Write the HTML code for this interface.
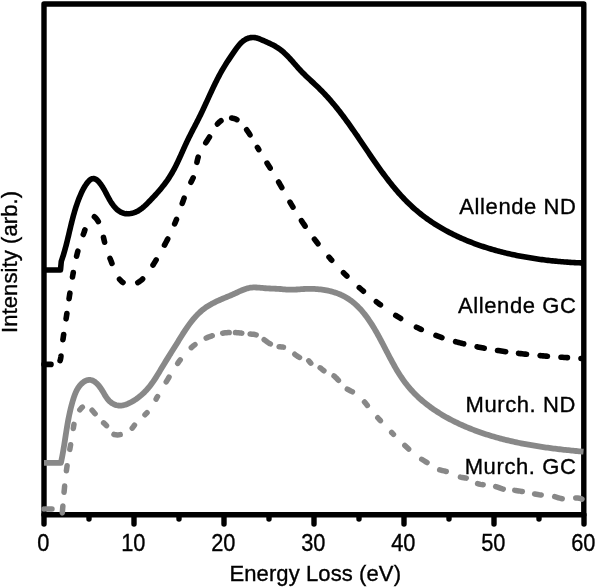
<!DOCTYPE html>
<html><head><meta charset="utf-8"><style>
html,body{margin:0;padding:0;background:#fff;}
body{width:600px;height:588px;overflow:hidden;font-family:"Liberation Sans",sans-serif;}
svg{display:block;will-change:transform;}
</style></head><body>
<svg width="600" height="588" viewBox="0 0 600 588">
<rect width="600" height="588" fill="#fff"/>
<g fill="none" stroke="#000" stroke-width="5.4" stroke-linecap="round" stroke-linejoin="round">
<path d="M44,514.8 V4 H583.8 V514.8 Z"/>
<line x1="44" y1="514.8" x2="44" y2="524" /><line x1="134" y1="514.8" x2="134" y2="524" /><line x1="224" y1="514.8" x2="224" y2="524" /><line x1="314" y1="514.8" x2="314" y2="524" /><line x1="404" y1="514.8" x2="404" y2="524" /><line x1="494" y1="514.8" x2="494" y2="524" /><line x1="584" y1="514.8" x2="584" y2="524" /><line x1="89" y1="514.8" x2="89" y2="519" /><line x1="179" y1="514.8" x2="179" y2="519" /><line x1="269" y1="514.8" x2="269" y2="519" /><line x1="359" y1="514.8" x2="359" y2="519" /><line x1="449" y1="514.8" x2="449" y2="519" /><line x1="539" y1="514.8" x2="539" y2="519" />
</g>
<g fill="none" stroke-linejoin="round" stroke-width="5.6">
<path d="M44.00,270.00 45.50,270.00 47.00,270.00 48.50,270.00 50.00,270.00 51.50,270.00 53.00,270.00 54.50,270.00 56.00,270.00 57.50,270.00 59.00,270.00 60.50,270.00 60.66,268.26 60.82,266.52 60.98,264.78 61.14,263.04 61.30,261.30 61.80,259.86 62.29,258.42 62.76,256.98 63.22,255.54 63.66,254.09 64.09,252.65 64.51,251.21 64.92,249.76 65.32,248.32 65.71,246.87 66.09,245.42 66.46,243.98 66.83,242.53 67.19,241.08 67.54,239.64 67.89,238.19 68.24,236.74 68.58,235.29 68.92,233.85 69.26,232.40 69.60,230.95 69.95,229.51 70.29,228.06 70.63,226.62 70.98,225.17 71.33,223.73 71.69,222.28 72.05,220.84 72.42,219.40 72.79,217.95 73.18,216.51 73.57,215.07 73.97,213.63 74.38,212.20 74.80,210.76 75.24,209.32 75.69,207.89 76.15,206.45 76.63,205.02 77.12,203.59 77.63,202.16 78.15,200.74 78.69,199.31 79.25,197.89 79.83,196.46 80.44,195.04 81.06,193.63 81.70,192.21 82.37,190.81 83.07,189.43 83.81,188.08 84.57,186.75 85.37,185.46 86.21,184.22 87.10,183.02 88.03,181.88 89.00,180.81 90.03,179.84 91.12,179.10 92.27,178.68 93.47,178.59 94.69,178.82 95.91,179.34 97.09,180.14 98.21,181.19 99.28,182.40 100.28,183.68 101.22,184.98 102.10,186.28 102.93,187.59 103.71,188.90 104.46,190.21 105.18,191.52 105.89,192.83 106.58,194.14 107.26,195.45 107.95,196.75 108.64,198.05 109.36,199.34 110.10,200.63 110.88,201.90 111.70,203.17 112.56,204.42 113.48,205.65 114.45,206.84 115.47,207.97 116.54,209.04 117.67,210.04 118.86,210.94 120.10,211.74 121.41,212.42 122.78,212.98 124.21,213.39 125.71,213.65 127.25,213.75 128.83,213.71 130.39,213.54 131.93,213.26 133.41,212.88 134.83,212.40 136.20,211.84 137.52,211.19 138.79,210.47 140.02,209.69 141.22,208.84 142.38,207.94 143.52,207.00 144.63,206.01 145.72,204.99 146.79,203.95 147.86,202.88 148.91,201.81 149.96,200.73 151.01,199.64 152.05,198.55 153.08,197.45 154.11,196.35 155.14,195.24 156.15,194.13 157.16,193.00 158.16,191.87 159.14,190.74 160.12,189.59 161.09,188.44 162.04,187.27 162.98,186.10 163.90,184.92 164.82,183.73 165.71,182.53 166.59,181.32 167.46,180.10 168.30,178.86 169.13,177.62 169.94,176.36 170.73,175.09 171.50,173.81 172.25,172.52 172.99,171.22 173.71,169.91 174.41,168.59 175.10,167.26 175.78,165.92 176.45,164.58 177.10,163.23 177.75,161.87 178.39,160.51 179.02,159.15 179.65,157.78 180.27,156.41 180.89,155.04 181.50,153.67 182.11,152.29 182.72,150.92 183.34,149.54 183.95,148.17 184.57,146.80 185.19,145.43 185.82,144.07 186.45,142.71 187.09,141.35 187.73,140.00 188.39,138.66 189.05,137.32 189.72,135.98 190.39,134.65 191.07,133.32 191.75,131.99 192.44,130.66 193.12,129.34 193.81,128.01 194.50,126.69 195.19,125.36 195.87,124.04 196.56,122.71 197.24,121.38 197.92,120.05 198.60,118.71 199.27,117.37 199.93,116.03 200.59,114.68 201.24,113.33 201.89,111.98 202.54,110.62 203.18,109.26 203.81,107.89 204.45,106.52 205.08,105.16 205.71,103.79 206.34,102.42 206.97,101.04 207.59,99.67 208.22,98.30 208.85,96.93 209.47,95.56 210.10,94.19 210.73,92.82 211.37,91.46 212.00,90.09 212.64,88.73 213.28,87.37 213.93,86.02 214.58,84.67 215.24,83.32 215.90,81.98 216.57,80.64 217.25,79.31 217.93,77.98 218.62,76.66 219.31,75.35 220.02,74.04 220.73,72.74 221.46,71.44 222.19,70.16 222.94,68.88 223.69,67.61 224.46,66.35 225.23,65.09 226.02,63.84 226.81,62.60 227.62,61.35 228.43,60.11 229.25,58.87 230.08,57.63 230.91,56.39 231.76,55.14 232.61,53.89 233.47,52.64 234.33,51.38 235.20,50.12 236.09,48.87 236.99,47.63 237.92,46.42 238.87,45.25 239.85,44.12 240.87,43.05 241.92,42.04 243.02,41.11 244.17,40.26 245.37,39.50 246.63,38.85 247.95,38.30 249.34,37.88 250.79,37.59 252.29,37.45 253.79,37.45 255.27,37.63 256.70,37.96 258.10,38.41 259.47,38.94 260.84,39.51 262.20,40.09 263.56,40.68 264.93,41.27 266.31,41.87 267.68,42.48 269.06,43.10 270.42,43.75 271.77,44.41 273.11,45.09 274.43,45.80 275.73,46.54 277.00,47.32 278.24,48.12 279.46,48.97 280.64,49.85 281.79,50.77 282.92,51.71 284.03,52.69 285.11,53.69 286.17,54.71 287.22,55.76 288.26,56.82 289.28,57.91 290.29,59.00 291.29,60.11 292.29,61.23 293.28,62.36 294.27,63.49 295.26,64.62 296.26,65.76 297.26,66.89 298.26,68.02 299.28,69.14 300.31,70.25 301.35,71.35 302.41,72.43 303.48,73.51 304.55,74.58 305.64,75.64 306.74,76.69 307.84,77.74 308.94,78.78 310.05,79.81 311.16,80.85 312.27,81.88 313.38,82.91 314.49,83.95 315.59,84.98 316.68,86.02 317.77,87.06 318.85,88.10 319.92,89.15 320.98,90.21 322.02,91.27 323.06,92.34 324.09,93.41 325.11,94.49 326.12,95.58 327.12,96.67 328.12,97.76 329.10,98.86 330.08,99.97 331.05,101.08 332.01,102.20 332.96,103.33 333.91,104.45 334.85,105.59 335.78,106.73 336.71,107.87 337.63,109.02 338.55,110.17 339.45,111.33 340.36,112.50 341.26,113.67 342.15,114.84 343.04,116.02 343.93,117.20 344.81,118.39 345.69,119.58 346.56,120.78 347.44,121.98 348.30,123.18 349.17,124.39 350.03,125.61 350.89,126.82 351.75,128.05 352.61,129.27 353.47,130.50 354.32,131.74 355.17,132.97 356.02,134.21 356.88,135.46 357.73,136.70 358.58,137.95 359.42,139.20 360.27,140.46 361.12,141.71 361.97,142.97 362.82,144.23 363.67,145.49 364.52,146.75 365.37,148.01 366.22,149.27 367.07,150.53 367.93,151.79 368.78,153.05 369.64,154.31 370.50,155.57 371.35,156.83 372.22,158.09 373.08,159.35 373.95,160.60 374.81,161.85 375.69,163.10 376.56,164.35 377.44,165.60 378.32,166.84 379.20,168.08 380.08,169.32 380.97,170.55 381.87,171.78 382.77,173.01 383.67,174.23 384.57,175.45 385.48,176.66 386.40,177.87 387.32,179.07 388.24,180.27 389.17,181.46 390.10,182.65 391.04,183.83 391.99,185.00 392.94,186.17 393.89,187.33 394.86,188.49 395.82,189.63 396.80,190.77 397.78,191.90 398.77,193.03 399.76,194.14 400.76,195.25 401.77,196.35 402.79,197.44 403.81,198.52 404.84,199.60 405.88,200.66 406.92,201.71 407.98,202.75 409.04,203.79 410.11,204.81 411.19,205.82 412.28,206.82 413.37,207.81 414.48,208.79 415.59,209.76 416.71,210.72 417.84,211.67 418.98,212.60 420.13,213.53 421.28,214.45 422.44,215.35 423.61,216.24 424.79,217.13 425.98,218.00 427.17,218.86 428.37,219.72 429.58,220.56 430.80,221.39 432.02,222.21 433.25,223.03 434.49,223.83 435.73,224.62 436.98,225.40 438.24,226.18 439.50,226.94 440.77,227.69 442.05,228.44 443.33,229.17 444.62,229.89 445.92,230.61 447.22,231.31 448.53,232.01 449.85,232.70 451.17,233.37 452.49,234.04 453.82,234.70 455.16,235.35 456.50,235.99 457.85,236.62 459.20,237.24 460.56,237.86 461.92,238.46 463.29,239.06 464.67,239.65 466.04,240.22 467.43,240.79 468.81,241.36 470.20,241.91 471.60,242.45 473.00,242.99 474.41,243.52 475.81,244.03 477.23,244.54 478.64,245.05 480.06,245.54 481.49,246.03 482.92,246.51 484.35,246.98 485.78,247.44 487.22,247.89 488.66,248.34 490.11,248.78 491.56,249.21 493.01,249.63 494.46,250.05 495.92,250.45 497.38,250.85 498.84,251.25 500.30,251.63 501.77,252.01 503.24,252.38 504.71,252.74 506.19,253.10 507.66,253.45 509.14,253.79 510.62,254.13 512.10,254.45 513.59,254.77 515.07,255.09 516.56,255.40 518.05,255.70 519.53,255.99 521.03,256.28 522.52,256.56 524.01,256.83 525.50,257.10 527.00,257.36 528.49,257.61 529.99,257.86 531.49,258.10 532.98,258.34 534.48,258.57 535.98,258.79 537.48,259.01 538.97,259.22 540.47,259.42 541.97,259.62 543.47,259.81 544.96,260.00 546.46,260.18 547.96,260.36 549.45,260.53 550.95,260.69 552.44,260.85 553.94,261.01 555.43,261.15 556.92,261.30 558.41,261.43 559.90,261.57 561.39,261.69 562.88,261.81 564.37,261.93 565.85,262.04 567.33,262.15 568.81,262.25 570.29,262.35 571.77,262.44 573.24,262.52 574.71,262.61 576.18,262.68 577.65,262.76 579.12,262.82 580.58,262.89 582.04,262.95 583.50,263.00" stroke="#000" stroke-linecap="butt"/>
<path d="M44.00,364.40 45.76,364.40 47.52,364.40 49.28,364.40 51.04,364.40 52.80,364.40 54.37,364.40 55.93,364.40 57.50,364.40 58.54,363.46 59.33,362.36 59.93,361.11 60.36,359.76 60.67,358.31 60.88,356.81 61.05,355.27 61.20,353.73 61.36,352.19 61.53,350.66 61.71,349.14 61.89,347.62 62.07,346.11 62.26,344.60 62.46,343.10 62.66,341.61 62.87,340.12 63.08,338.63 63.30,337.14 63.51,335.66 63.73,334.18 63.96,332.71 64.18,331.23 64.41,329.76 64.63,328.28 64.86,326.81 65.09,325.34 65.31,323.87 65.54,322.39 65.77,320.92 65.99,319.44 66.21,317.96 66.44,316.48 66.66,315.00 66.88,313.52 67.09,312.04 67.31,310.56 67.53,309.07 67.75,307.58 67.97,306.10 68.18,304.61 68.40,303.12 68.62,301.63 68.84,300.15 69.06,298.66 69.28,297.17 69.51,295.68 69.73,294.19 69.96,292.70 70.18,291.21 70.41,289.72 70.64,288.24 70.88,286.75 71.11,285.26 71.35,283.78 71.59,282.29 71.84,280.81 72.09,279.32 72.34,277.84 72.59,276.36 72.85,274.88 73.11,273.40 73.38,271.93 73.65,270.45 73.92,268.98 74.20,267.51 74.49,266.04 74.78,264.57 75.07,263.11 75.38,261.64 75.69,260.18 76.01,258.72 76.34,257.27 76.68,255.82 77.03,254.37 77.39,252.92 77.77,251.48 78.15,250.04 78.54,248.60 78.95,247.17 79.38,245.74 79.81,244.31 80.26,242.89 80.73,241.47 81.21,240.05 81.71,238.64 82.22,237.23 82.76,235.83 83.30,234.42 83.85,232.99 84.38,231.52 84.88,229.99 85.34,228.38 85.74,226.67 86.10,224.88 86.43,223.08 86.77,221.32 87.14,219.66 87.57,218.16 88.07,216.88 88.68,215.87 89.43,215.20 90.33,214.92 91.39,215.06 92.54,215.53 93.65,216.19 94.68,216.98 95.63,217.87 96.51,218.87 97.32,219.96 98.07,221.15 98.76,222.41 99.40,223.74 99.98,225.14 100.53,226.60 101.03,228.10 101.50,229.64 101.95,231.21 102.37,232.80 102.77,234.41 103.15,236.03 103.53,237.64 103.90,239.25 104.28,240.84 104.65,242.40 105.04,243.93 105.45,245.42 105.87,246.87 106.31,248.28 106.76,249.66 107.22,251.02 107.70,252.36 108.18,253.68 108.68,255.00 109.19,256.31 109.70,257.62 110.22,258.94 110.75,260.27 111.28,261.61 111.81,262.98 112.35,264.38 112.89,265.80 113.44,267.26 113.99,268.73 114.57,270.20 115.18,271.66 115.82,273.10 116.51,274.51 117.24,275.87 118.03,277.18 118.88,278.43 119.80,279.60 120.80,280.67 121.88,281.65 123.05,282.51 124.33,283.25 125.70,283.85 127.15,284.30 128.64,284.60 130.15,284.73 131.64,284.67 133.10,284.45 134.52,284.08 135.92,283.56 137.27,282.91 138.59,282.16 139.86,281.30 141.09,280.36 142.26,279.36 143.38,278.29 144.45,277.19 145.46,276.05 146.43,274.89 147.35,273.70 148.23,272.49 149.09,271.26 149.91,270.01 150.72,268.75 151.52,267.49 152.31,266.22 153.09,264.94 153.87,263.66 154.65,262.38 155.43,261.10 156.20,259.81 156.96,258.52 157.72,257.23 158.48,255.93 159.23,254.63 159.98,253.33 160.72,252.03 161.45,250.72 162.18,249.41 162.91,248.09 163.63,246.77 164.34,245.45 165.04,244.12 165.74,242.79 166.44,241.46 167.12,240.12 167.80,238.78 168.47,237.44 169.13,236.09 169.79,234.74 170.43,233.39 171.07,232.03 171.70,230.66 172.32,229.30 172.93,227.93 173.54,226.55 174.13,225.18 174.71,223.79 175.29,222.41 175.85,221.02 176.41,219.62 176.95,218.22 177.48,216.82 178.01,215.41 178.52,214.00 179.03,212.59 179.53,211.17 180.03,209.76 180.53,208.34 181.02,206.92 181.51,205.50 182.01,204.08 182.51,202.66 183.01,201.25 183.51,199.83 184.02,198.42 184.54,197.01 185.07,195.61 185.61,194.21 186.16,192.81 186.73,191.42 187.31,190.04 187.90,188.66 188.51,187.29 189.14,185.92 189.79,184.57 190.46,183.22 191.15,181.88 191.83,180.53 192.49,179.19 193.12,177.83 193.69,176.45 194.20,175.05 194.64,173.63 195.03,172.19 195.37,170.74 195.68,169.27 195.96,167.79 196.23,166.30 196.49,164.81 196.76,163.32 197.04,161.83 197.35,160.34 197.69,158.87 198.08,157.42 198.53,155.99 199.03,154.59 199.60,153.21 200.23,151.86 200.91,150.53 201.64,149.23 202.40,147.93 203.19,146.65 204.00,145.38 204.84,144.12 205.68,142.86 206.52,141.61 207.36,140.35 208.19,139.08 209.00,137.81 209.79,136.53 210.55,135.23 211.27,133.92 211.97,132.60 212.67,131.28 213.39,129.97 214.13,128.67 214.91,127.40 215.75,126.15 216.66,124.93 217.65,123.77 218.72,122.66 219.86,121.63 221.06,120.69 222.32,119.86 223.64,119.16 225.02,118.59 226.44,118.18 227.90,117.93 229.38,117.84 230.87,117.90 232.36,118.11 233.83,118.45 235.26,118.93 236.64,119.54 237.96,120.27 239.19,121.11 240.35,122.06 241.44,123.09 242.47,124.20 243.44,125.36 244.38,126.57 245.28,127.81 246.16,129.05 247.02,130.31 247.86,131.56 248.69,132.83 249.51,134.09 250.31,135.36 251.10,136.64 251.88,137.92 252.65,139.20 253.42,140.48 254.18,141.76 254.93,143.05 255.68,144.34 256.43,145.62 257.19,146.91 257.94,148.20 258.69,149.48 259.45,150.76 260.22,152.05 260.99,153.33 261.77,154.60 262.55,155.88 263.33,157.16 264.12,158.43 264.91,159.70 265.71,160.98 266.51,162.25 267.30,163.52 268.10,164.80 268.90,166.07 269.70,167.34 270.49,168.62 271.29,169.89 272.08,171.17 272.87,172.45 273.66,173.73 274.44,175.01 275.22,176.29 276.00,177.58 276.77,178.86 277.53,180.15 278.29,181.45 279.04,182.74 279.78,184.04 280.53,185.34 281.26,186.65 282.00,187.95 282.73,189.25 283.46,190.56 284.19,191.87 284.92,193.17 285.65,194.48 286.38,195.78 287.11,197.09 287.85,198.39 288.59,199.69 289.33,200.99 290.08,202.28 290.84,203.58 291.60,204.87 292.36,206.16 293.13,207.44 293.91,208.73 294.69,210.01 295.48,211.29 296.27,212.56 297.06,213.84 297.87,215.11 298.67,216.38 299.48,217.64 300.30,218.90 301.12,220.16 301.95,221.41 302.78,222.67 303.62,223.91 304.46,225.16 305.31,226.40 306.16,227.64 307.02,228.87 307.88,230.10 308.75,231.33 309.62,232.56 310.50,233.78 311.38,234.99 312.27,236.20 313.16,237.41 314.06,238.62 314.96,239.82 315.87,241.01 316.79,242.20 317.71,243.39 318.63,244.57 319.56,245.75 320.49,246.93 321.43,248.10 322.38,249.26 323.33,250.42 324.28,251.58 325.24,252.73 326.21,253.88 327.18,255.02 328.16,256.16 329.14,257.29 330.12,258.42 331.11,259.54 332.11,260.66 333.11,261.77 334.12,262.88 335.13,263.98 336.15,265.08 337.17,266.17 338.19,267.26 339.23,268.34 340.26,269.42 341.30,270.49 342.35,271.56 343.40,272.62 344.46,273.68 345.52,274.74 346.58,275.79 347.66,276.83 348.73,277.87 349.81,278.91 350.90,279.94 351.99,280.97 353.08,281.99 354.18,283.01 355.29,284.02 356.40,285.03 357.51,286.03 358.63,287.03 359.75,288.02 360.88,289.01 362.01,290.00 363.15,290.98 364.29,291.96 365.44,292.93 366.59,293.89 367.74,294.86 368.90,295.81 370.07,296.77 371.24,297.71 372.41,298.65 373.59,299.59 374.77,300.52 375.96,301.45 377.15,302.37 378.35,303.28 379.55,304.19 380.76,305.09 381.97,305.98 383.19,306.87 384.41,307.75 385.63,308.62 386.86,309.49 388.10,310.35 389.34,311.20 390.58,312.05 391.83,312.89 393.09,313.72 394.34,314.54 395.61,315.35 396.88,316.16 398.15,316.95 399.43,317.74 400.71,318.52 401.99,319.30 403.29,320.06 404.58,320.81 405.88,321.56 407.19,322.29 408.50,323.02 409.82,323.74 411.14,324.45 412.46,325.14 413.79,325.83 415.13,326.51 416.47,327.17 417.81,327.83 419.16,328.48 420.51,329.11 421.87,329.74 423.24,330.35 424.61,330.95 425.98,331.54 427.36,332.12 428.74,332.70 430.13,333.26 431.52,333.80 432.91,334.34 434.31,334.87 435.72,335.39 437.13,335.90 438.54,336.40 439.95,336.90 441.37,337.38 442.79,337.85 444.22,338.32 445.64,338.77 447.08,339.22 448.51,339.66 449.95,340.09 451.39,340.51 452.83,340.92 454.28,341.33 455.72,341.73 457.17,342.12 458.63,342.50 460.08,342.88 461.54,343.25 463.00,343.61 464.46,343.97 465.92,344.32 467.38,344.66 468.85,345.00 470.31,345.33 471.78,345.65 473.25,345.97 474.72,346.29 476.19,346.59 477.66,346.90 479.13,347.19 480.61,347.49 482.08,347.77 483.56,348.05 485.03,348.33 486.51,348.60 487.99,348.87 489.46,349.13 490.94,349.39 492.42,349.64 493.90,349.89 495.38,350.13 496.86,350.37 498.35,350.60 499.83,350.83 501.31,351.06 502.80,351.28 504.28,351.49 505.77,351.71 507.26,351.91 508.74,352.12 510.23,352.32 511.72,352.52 513.21,352.71 514.69,352.90 516.18,353.08 517.67,353.26 519.16,353.44 520.66,353.61 522.15,353.79 523.64,353.95 525.13,354.12 526.62,354.28 528.12,354.43 529.61,354.59 531.10,354.74 532.60,354.89 534.09,355.03 535.59,355.18 537.08,355.32 538.58,355.45 540.07,355.59 541.57,355.72 543.06,355.85 544.56,355.97 546.06,356.10 547.55,356.22 549.05,356.34 550.55,356.46 552.05,356.57 553.54,356.69 555.04,356.80 556.54,356.91 558.04,357.01 559.53,357.12 561.03,357.22 562.53,357.32 564.03,357.42 565.53,357.52 567.02,357.62 568.52,357.71 570.02,357.81 571.52,357.90 573.02,357.99 574.51,358.08 576.01,358.17 577.51,358.26 579.01,358.34 580.51,358.43 582.00,358.52 583.50,358.60" stroke="#000" stroke-linecap="round" stroke-dasharray="7.00 11.14 4.72 16.48 5.21 15.86 5.38 15.04 5.48 16.36 4.53 16.71 5.22 17.53 4.94 21.03 6.25 16.73 4.84 17.16 5.35 17.61 4.75 15.68 5.98 17.54 5.97 16.98 7.00 16.54 4.82 17.01 5.55 17.38 4.93 16.00 5.36 16.38 6.75 15.31 4.81 11.36 5.51 14.18 6.11 14.54 2.62 15.79 5.90 16.34 6.35 16.74 5.80 16.02 6.47 16.07 5.74 17.45 4.02 17.24 4.75 16.95 5.43 16.69 5.15 18.66 5.72 18.05 5.35 15.89 6.31 14.28 8.38 13.71 7.30 13.50 8.23 12.93 8.08 13.61 7.35 13.62 6.44 13.60 0.71 2912.04"/>
<path d="M44.00,462.90 45.54,462.90 47.07,462.90 48.61,462.90 50.15,462.90 51.68,462.90 53.22,462.90 54.75,462.90 56.29,462.90 57.83,462.90 59.36,462.90 60.90,462.90 61.22,461.41 61.53,459.92 61.83,458.44 62.12,456.95 62.40,455.47 62.67,453.99 62.94,452.50 63.19,451.02 63.45,449.54 63.69,448.07 63.93,446.59 64.17,445.11 64.41,443.64 64.64,442.16 64.87,440.69 65.09,439.21 65.32,437.74 65.55,436.27 65.77,434.80 66.00,433.33 66.23,431.86 66.47,430.39 66.70,428.92 66.94,427.45 67.19,425.98 67.44,424.51 67.70,423.04 67.96,421.58 68.23,420.11 68.51,418.64 68.79,417.18 69.09,415.71 69.40,414.24 69.71,412.78 70.04,411.31 70.38,409.85 70.74,408.38 71.10,406.92 71.48,405.45 71.88,403.98 72.29,402.52 72.72,401.05 73.16,399.58 73.62,398.12 74.11,396.66 74.62,395.21 75.17,393.78 75.76,392.38 76.40,391.00 77.09,389.67 77.84,388.37 78.65,387.13 79.52,385.94 80.48,384.80 81.51,383.74 82.63,382.75 83.83,381.85 85.10,381.09 86.40,380.48 87.74,380.08 89.10,379.90 90.45,379.97 91.77,380.27 93.06,380.78 94.30,381.47 95.50,382.33 96.65,383.33 97.75,384.45 98.81,385.66 99.81,386.94 100.76,388.26 101.66,389.62 102.50,390.97 103.30,392.31 104.07,393.63 104.83,394.93 105.59,396.19 106.39,397.41 107.23,398.59 108.13,399.72 109.11,400.79 110.19,401.80 111.36,402.74 112.62,403.57 113.94,404.28 115.31,404.84 116.70,405.24 118.11,405.49 119.53,405.58 120.96,405.53 122.40,405.36 123.84,405.07 125.28,404.68 126.71,404.19 128.14,403.62 129.54,402.97 130.93,402.27 132.29,401.51 133.62,400.72 134.93,399.90 136.20,399.05 137.44,398.17 138.65,397.27 139.83,396.34 140.98,395.38 142.10,394.40 143.20,393.40 144.27,392.37 145.31,391.31 146.33,390.24 147.32,389.13 148.29,388.01 149.23,386.86 150.16,385.69 151.06,384.50 151.95,383.30 152.82,382.08 153.68,380.84 154.52,379.59 155.34,378.33 156.16,377.06 156.96,375.78 157.76,374.50 158.55,373.21 159.33,371.92 160.11,370.62 160.88,369.33 161.65,368.03 162.42,366.74 163.19,365.45 163.97,364.17 164.74,362.89 165.52,361.62 166.31,360.36 167.09,359.10 167.88,357.84 168.66,356.59 169.45,355.33 170.24,354.08 171.03,352.82 171.82,351.57 172.62,350.31 173.41,349.05 174.20,347.79 174.99,346.52 175.79,345.25 176.58,343.97 177.37,342.69 178.16,341.40 178.95,340.11 179.75,338.82 180.55,337.53 181.35,336.24 182.16,334.95 182.97,333.66 183.80,332.38 184.62,331.10 185.46,329.83 186.31,328.57 187.16,327.32 188.03,326.08 188.91,324.85 189.80,323.64 190.71,322.44 191.63,321.25 192.57,320.08 193.52,318.93 194.49,317.80 195.47,316.69 196.48,315.60 197.50,314.54 198.55,313.50 199.62,312.48 200.71,311.49 201.82,310.53 202.95,309.60 204.12,308.70 205.30,307.83 206.51,306.99 207.75,306.18 209.01,305.41 210.30,304.66 211.60,303.93 212.92,303.23 214.26,302.55 215.61,301.88 216.98,301.24 218.36,300.61 219.74,299.99 221.14,299.38 222.54,298.78 223.95,298.18 225.36,297.59 226.77,297.00 228.19,296.41 229.60,295.82 231.00,295.22 232.41,294.62 233.80,294.01 235.19,293.39 236.56,292.75 237.93,292.12 239.30,291.49 240.66,290.87 242.02,290.27 243.39,289.71 244.76,289.19 246.15,288.72 247.54,288.32 248.96,287.98 250.39,287.72 251.84,287.54 253.31,287.45 254.80,287.43 256.30,287.48 257.81,287.56 259.33,287.68 260.85,287.83 262.37,287.98 263.88,288.13 265.38,288.26 266.88,288.37 268.36,288.45 269.84,288.51 271.31,288.57 272.78,288.62 274.25,288.67 275.73,288.73 277.22,288.80 278.71,288.89 280.22,289.01 281.75,289.16 283.28,289.31 284.81,289.46 286.33,289.58 287.84,289.67 289.34,289.71 290.83,289.72 292.31,289.69 293.79,289.65 295.26,289.58 296.72,289.49 298.18,289.39 299.64,289.29 301.10,289.19 302.57,289.09 304.04,289.00 305.51,288.93 307.00,288.88 308.49,288.84 309.99,288.84 311.50,288.85 313.01,288.89 314.52,288.95 316.03,289.04 317.55,289.15 319.06,289.29 320.58,289.45 322.09,289.64 323.59,289.86 325.09,290.11 326.59,290.38 328.07,290.68 329.55,291.01 331.02,291.37 332.47,291.77 333.91,292.19 335.34,292.64 336.75,293.12 338.15,293.64 339.53,294.19 340.89,294.77 342.23,295.39 343.55,296.04 344.85,296.73 346.12,297.45 347.37,298.20 348.59,298.99 349.80,299.81 350.98,300.66 352.14,301.54 353.28,302.45 354.40,303.39 355.50,304.36 356.58,305.35 357.64,306.37 358.68,307.42 359.71,308.49 360.71,309.58 361.70,310.69 362.68,311.83 363.63,312.98 364.57,314.16 365.50,315.35 366.41,316.56 367.30,317.78 368.19,319.02 369.06,320.28 369.91,321.55 370.76,322.83 371.59,324.12 372.41,325.42 373.22,326.74 374.02,328.06 374.80,329.39 375.58,330.72 376.35,332.06 377.11,333.41 377.87,334.76 378.61,336.11 379.35,337.47 380.08,338.83 380.81,340.19 381.53,341.55 382.25,342.91 382.96,344.27 383.67,345.64 384.38,347.00 385.08,348.36 385.78,349.72 386.49,351.08 387.19,352.43 387.89,353.78 388.60,355.13 389.30,356.48 390.01,357.82 390.72,359.16 391.43,360.49 392.15,361.82 392.87,363.15 393.60,364.46 394.33,365.77 395.07,367.08 395.82,368.37 396.58,369.66 397.34,370.94 398.12,372.21 398.90,373.47 399.69,374.72 400.50,375.97 401.31,377.20 402.14,378.42 402.98,379.63 403.84,380.83 404.70,382.02 405.59,383.19 406.48,384.35 407.40,385.50 408.33,386.63 409.27,387.76 410.23,388.86 411.21,389.96 412.20,391.04 413.20,392.11 414.22,393.17 415.25,394.21 416.29,395.24 417.35,396.26 418.42,397.27 419.51,398.27 420.60,399.25 421.71,400.22 422.84,401.18 423.97,402.12 425.11,403.05 426.27,403.98 427.44,404.89 428.62,405.79 429.81,406.67 431.01,407.55 432.22,408.41 433.44,409.26 434.67,410.10 435.91,410.93 437.16,411.75 438.42,412.56 439.69,413.35 440.96,414.14 442.25,414.91 443.54,415.68 444.84,416.43 446.15,417.17 447.46,417.90 448.78,418.62 450.11,419.33 451.45,420.03 452.79,420.72 454.14,421.40 455.50,422.07 456.86,422.73 458.23,423.38 459.60,424.02 460.97,424.65 462.36,425.27 463.74,425.88 465.13,426.48 466.53,427.07 467.93,427.65 469.33,428.22 470.73,428.79 472.14,429.34 473.55,429.88 474.97,430.42 476.39,430.95 477.80,431.46 479.23,431.97 480.65,432.47 482.07,432.96 483.50,433.45 484.93,433.92 486.36,434.39 487.79,434.84 489.22,435.29 490.66,435.73 492.09,436.17 493.53,436.59 494.97,437.01 496.41,437.42 497.86,437.82 499.30,438.22 500.75,438.61 502.19,438.99 503.64,439.36 505.09,439.73 506.54,440.08 508.00,440.44 509.45,440.78 510.91,441.12 512.36,441.45 513.82,441.78 515.28,442.10 516.74,442.41 518.21,442.72 519.67,443.02 521.14,443.32 522.60,443.61 524.07,443.89 525.54,444.17 527.01,444.44 528.48,444.71 529.95,444.97 531.42,445.23 532.90,445.48 534.37,445.73 535.85,445.97 537.33,446.21 538.80,446.44 540.28,446.66 541.76,446.89 543.24,447.11 544.73,447.32 546.21,447.53 547.69,447.74 549.18,447.94 550.66,448.14 552.15,448.33 553.63,448.52 555.12,448.71 556.61,448.89 558.10,449.07 559.59,449.25 561.08,449.42 562.57,449.59 564.06,449.76 565.55,449.92 567.05,450.08 568.54,450.24 570.03,450.40 571.53,450.55 573.02,450.70 574.52,450.85 576.01,451.00 577.51,451.14 579.01,451.28 580.50,451.42 582.00,451.56 583.50,451.70" stroke="#888888" stroke-linecap="butt" stroke-width="5.8"/>
<path d="M44.00,509.00 45.62,509.00 47.25,509.00 48.88,509.00 50.50,509.00 52.12,509.00 53.75,509.00 55.39,509.00 57.02,509.00 58.66,509.00 60.30,509.00 61.30,510.90 62.30,512.80 62.43,511.30 62.55,509.81 62.67,508.31 62.80,506.82 62.92,505.32 63.05,503.83 63.17,502.33 63.30,500.84 63.43,499.34 63.56,497.85 63.69,496.36 63.82,494.86 63.95,493.37 64.09,491.88 64.23,490.39 64.37,488.90 64.51,487.41 64.66,485.92 64.81,484.43 64.96,482.94 65.12,481.45 65.29,479.96 65.45,478.47 65.62,476.98 65.80,475.49 65.98,474.00 66.17,472.52 66.36,471.03 66.56,469.54 66.76,468.06 66.97,466.57 67.19,465.09 67.41,463.60 67.64,462.12 67.88,460.64 68.12,459.15 68.37,457.67 68.62,456.19 68.87,454.71 69.13,453.22 69.39,451.74 69.65,450.26 69.91,448.78 70.17,447.30 70.44,445.83 70.70,444.35 70.96,442.87 71.22,441.40 71.47,439.92 71.73,438.44 71.98,436.97 72.22,435.50 72.46,434.03 72.69,432.55 72.92,431.08 73.14,429.61 73.35,428.14 73.57,426.68 73.81,425.21 74.07,423.76 74.36,422.30 74.69,420.86 75.07,419.42 75.51,417.99 76.02,416.57 76.61,415.16 77.28,413.76 78.05,412.38 78.93,411.01 79.91,409.67 80.97,408.42 82.11,407.32 83.29,406.44 84.50,405.83 85.71,405.57 86.91,405.72 88.08,406.29 89.21,407.19 90.31,408.29 91.37,409.46 92.41,410.63 93.41,411.79 94.40,412.95 95.38,414.10 96.35,415.24 97.32,416.37 98.30,417.48 99.29,418.58 100.30,419.66 101.33,420.71 102.40,421.75 103.50,422.76 104.60,423.78 105.68,424.83 106.71,425.93 107.65,427.13 108.50,428.42 109.30,429.76 110.09,431.06 110.95,432.26 111.92,433.28 113.07,434.05 114.39,434.56 115.85,434.83 117.39,434.90 119.00,434.80 120.61,434.56 122.20,434.21 123.74,433.77 125.20,433.24 126.60,432.62 127.92,431.91 129.15,431.10 130.30,430.19 131.35,429.17 132.31,428.06 133.22,426.89 134.11,425.68 135.00,424.48 135.93,423.31 136.91,422.20 137.94,421.13 139.01,420.09 140.11,419.08 141.22,418.09 142.34,417.10 143.46,416.11 144.57,415.12 145.66,414.10 146.72,413.05 147.74,411.96 148.71,410.83 149.63,409.64 150.51,408.42 151.35,407.16 152.16,405.87 152.94,404.56 153.71,403.24 154.46,401.92 155.21,400.60 155.95,399.29 156.70,397.99 157.45,396.69 158.20,395.41 158.95,394.12 159.71,392.85 160.46,391.57 161.21,390.30 161.97,389.03 162.73,387.76 163.48,386.49 164.24,385.22 165.00,383.94 165.76,382.65 166.52,381.37 167.28,380.07 168.04,378.78 168.81,377.48 169.58,376.18 170.36,374.88 171.14,373.59 171.93,372.29 172.73,371.01 173.53,369.72 174.35,368.44 175.17,367.17 176.00,365.90 176.84,364.65 177.70,363.40 178.57,362.17 179.45,360.94 180.34,359.74 181.25,358.54 182.18,357.36 183.12,356.20 184.08,355.05 185.05,353.93 186.05,352.82 187.06,351.73 188.09,350.67 189.15,349.62 190.22,348.61 191.32,347.61 192.44,346.65 193.58,345.71 194.75,344.79 195.94,343.91 197.16,343.06 198.41,342.24 199.68,341.45 200.97,340.69 202.28,339.96 203.62,339.27 204.97,338.61 206.34,337.98 207.73,337.38 209.13,336.81 210.55,336.28 211.98,335.79 213.42,335.32 214.87,334.89 216.33,334.50 217.80,334.13 219.27,333.81 220.75,333.52 222.24,333.26 223.72,333.04 225.21,332.85 226.70,332.71 228.19,332.59 229.67,332.52 231.15,332.48 232.63,332.48 234.10,332.51 235.57,332.58 237.03,332.68 238.49,332.81 239.95,332.96 241.41,333.11 242.89,333.28 244.37,333.44 245.86,333.60 247.37,333.75 248.90,333.88 250.44,334.00 251.97,334.14 253.49,334.32 254.98,334.58 256.42,334.94 257.79,335.42 259.08,336.06 260.31,336.82 261.50,337.68 262.69,338.58 263.88,339.50 265.10,340.42 266.33,341.32 267.58,342.19 268.85,343.03 270.15,343.81 271.48,344.53 272.83,345.16 274.22,345.71 275.64,346.16 277.09,346.49 278.57,346.70 280.07,346.83 281.57,346.94 283.06,347.09 284.50,347.34 285.87,347.75 287.19,348.34 288.45,349.07 289.66,349.93 290.85,350.86 292.02,351.86 293.19,352.88 294.36,353.91 295.55,354.89 296.78,355.82 298.04,356.65 299.37,357.36 300.76,357.92 302.23,358.30 303.73,358.57 305.22,358.85 306.61,359.28 307.84,359.97 308.91,360.95 309.89,362.08 310.87,363.23 311.94,364.24 313.16,365.01 314.51,365.57 315.94,366.02 317.37,366.47 318.75,367.03 320.03,367.76 321.25,368.62 322.42,369.55 323.60,370.49 324.81,371.37 326.09,372.13 327.43,372.77 328.81,373.34 330.19,373.89 331.54,374.49 332.83,375.18 334.03,375.99 335.15,376.91 336.22,377.93 337.24,379.01 338.23,380.15 339.20,381.32 340.17,382.51 341.15,383.68 342.15,384.84 343.20,385.94 344.29,386.98 345.45,387.94 346.69,388.79 348.00,389.56 349.36,390.26 350.73,390.93 352.11,391.60 353.47,392.29 354.78,393.04 356.03,393.86 357.24,394.74 358.40,395.67 359.51,396.65 360.60,397.68 361.65,398.74 362.67,399.84 363.67,400.96 364.65,402.11 365.61,403.27 366.57,404.44 367.52,405.62 368.48,406.80 369.43,407.97 370.39,409.13 371.36,410.29 372.33,411.44 373.30,412.59 374.28,413.73 375.26,414.86 376.25,415.99 377.24,417.11 378.23,418.23 379.23,419.34 380.23,420.45 381.24,421.55 382.25,422.65 383.27,423.74 384.28,424.83 385.31,425.92 386.33,427.00 387.36,428.08 388.40,429.15 389.44,430.23 390.48,431.29 391.52,432.36 392.57,433.42 393.62,434.48 394.68,435.54 395.74,436.59 396.80,437.65 397.87,438.70 398.94,439.75 400.01,440.79 401.09,441.84 402.17,442.89 403.25,443.93 404.33,444.97 405.42,446.01 406.52,447.05 407.62,448.08 408.73,449.10 409.84,450.12 410.97,451.11 412.10,452.10 413.24,453.07 414.40,454.02 415.57,454.94 416.75,455.85 417.95,456.73 419.17,457.59 420.40,458.41 421.65,459.21 422.91,459.99 424.18,460.76 425.45,461.53 426.72,462.31 427.99,463.11 429.25,463.94 430.50,464.79 431.75,465.65 433.01,466.50 434.28,467.31 435.58,468.06 436.90,468.74 438.27,469.33 439.67,469.81 441.10,470.22 442.56,470.58 444.02,470.93 445.48,471.29 446.93,471.69 448.35,472.17 449.74,472.73 451.11,473.36 452.47,474.02 453.83,474.68 455.19,475.32 456.56,475.92 457.96,476.44 459.40,476.85 460.86,477.17 462.34,477.43 463.82,477.68 465.30,477.96 466.75,478.31 468.16,478.79 469.52,479.40 470.85,480.12 472.16,480.90 473.47,481.68 474.79,482.42 476.14,483.07 477.52,483.60 478.94,484.02 480.39,484.34 481.87,484.59 483.36,484.78 484.86,484.93 486.37,485.06 487.89,485.19 489.40,485.33 490.91,485.50 492.40,485.73 493.87,486.03 495.32,486.41 496.74,486.86 498.16,487.35 499.57,487.86 500.98,488.36 502.39,488.82 503.82,489.23 505.27,489.55 506.74,489.77 508.23,489.92 509.73,490.03 511.23,490.11 512.73,490.20 514.23,490.33 515.72,490.49 517.21,490.69 518.69,490.91 520.16,491.16 521.64,491.43 523.11,491.71 524.57,492.00 526.04,492.29 527.51,492.59 528.98,492.89 530.44,493.18 531.91,493.47 533.38,493.75 534.85,494.02 536.32,494.27 537.80,494.50 539.27,494.72 540.75,494.90 542.24,495.07 543.72,495.20 545.21,495.30 546.71,495.41 548.19,495.52 549.68,495.67 551.16,495.86 552.63,496.12 554.09,496.46 555.55,496.87 557.00,497.31 558.44,497.76 559.89,498.18 561.34,498.54 562.79,498.81 564.26,498.96 565.73,498.98 567.22,498.89 568.71,498.73 570.21,498.52 571.71,498.30 573.21,498.10 574.70,497.96 576.19,497.90 577.68,497.95 579.15,498.16 580.62,498.55 582.07,499.15 583.50,500.00" stroke="#888888" stroke-linecap="round" stroke-width="5.5" stroke-dasharray="0.00 2.80 5.15 12.64 6.80 13.87 6.15 15.34 5.24 16.47 4.72 16.57 4.06 15.87 3.72 11.92 4.64 12.48 4.03 11.67 6.35 13.98 3.71 14.84 2.90 16.47 2.87 17.03 5.54 16.15 4.43 16.51 4.72 13.06 6.47 10.74 6.56 6.29 6.40 8.30 6.16 9.39 7.49 9.26 4.38 13.62 5.74 9.95 3.15 10.53 4.78 11.41 6.22 12.62 5.71 15.96 4.47 16.10 3.93 16.38 2.56 15.90 5.22 16.66 6.20 14.68 6.75 15.29 5.92 12.69 5.66 12.66 7.97 11.60 7.65 12.55 6.68 13.58 7.81 13.66 6.32 2744.53"/>
</g>
<g font-family="Liberation Sans, sans-serif" fill="#000" stroke="#000" stroke-width="0.35">
<g font-size="23.2">
<text transform="translate(43.3,551.4) scale(0.94,1)" text-anchor="middle">0</text><text transform="translate(133.3,551.4) scale(0.94,1)" text-anchor="middle">10</text><text transform="translate(223.3,551.4) scale(0.94,1)" text-anchor="middle">20</text><text transform="translate(313.3,551.4) scale(0.94,1)" text-anchor="middle">30</text><text transform="translate(403.3,551.4) scale(0.94,1)" text-anchor="middle">40</text><text transform="translate(493.3,551.4) scale(0.94,1)" text-anchor="middle">50</text><text transform="translate(583.3,551.4) scale(0.94,1)" text-anchor="middle">60</text>
</g>
<g font-size="22" letter-spacing="0.6">
<text x="459.3" y="213.6">Allende ND</text>
<text x="458" y="312.9">Allende GC</text>
<text x="465.5" y="411.9">Murch. ND</text>
<text x="464.7" y="473.6">Murch. GC</text>
</g>
<text x="229.5" y="581" font-size="22" letter-spacing="0.1">Energy Loss (eV)</text>
<text transform="translate(17.1,333) rotate(-90)" font-size="22" letter-spacing="0.1">Intensity (arb.)</text>
</g>
</svg>
</body></html>
